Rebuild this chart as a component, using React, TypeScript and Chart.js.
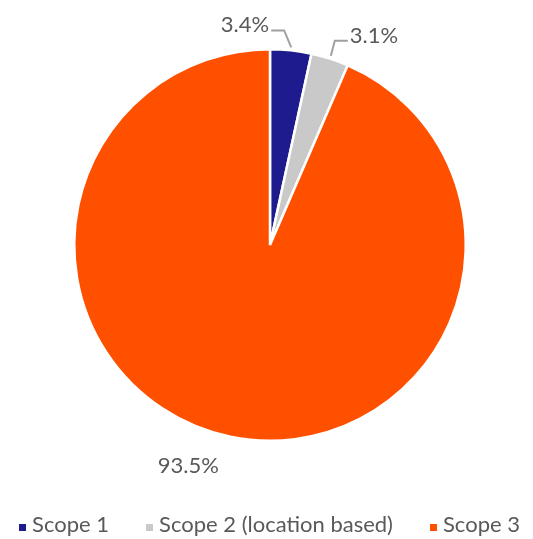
import React, { useEffect, useRef } from "react";
import { Chart, registerables } from "chart.js";

Chart.register(...registerables);

const categories = ["Scope 1", "Scope 2 (location based)", "Scope 3"];
const values = [3.4, 3.1, 93.5];
const valueLabels = ["3.4%", "3.1%", "93.5%"];
const colors = ["#1E1B8E", "#C9C9C9", "#FF5000"];

// label layout relative to slice edge anchor: [elbowDx, elbowDy, endDx, endDy] or null for no leader
const leaderLayout: (number[] | null)[] = [
  [-7, -17, -20, -17],
  [4, -15, 17, -15],
  null,
];
const freeLabelOffset = [-42, 29];

const FONT = "Lato, 'Open Sans', sans-serif";
const LABEL_SIZE = 22;
const LEGEND_SIZE = 22;
const TEXT_COLOR = "#595959";

const labelPlugin = {
  id: "pctLabels",
  afterDraw(chart: any) {
    const ctx = chart.ctx;
    const meta = chart.getDatasetMeta(0);
    ctx.save();
    ctx.font = `${LABEL_SIZE}px ${FONT}`;
    ctx.fillStyle = TEXT_COLOR;
    meta.data.forEach((arc: any, i: number) => {
      const p = arc.getProps(["x", "y", "startAngle", "endAngle", "outerRadius"], true);
      const mid = (p.startAngle + p.endAngle) / 2;
      const ax = p.x + (p.outerRadius + 3) * Math.cos(mid);
      const ay = p.y + (p.outerRadius + 3) * Math.sin(mid);
      const lay = leaderLayout[i];
      if (lay) {
        ctx.strokeStyle = "#A0A0A0";
        ctx.lineWidth = 2;
        ctx.beginPath();
        ctx.moveTo(ax, ay);
        ctx.lineTo(ax + lay[0], ay + lay[1]);
        ctx.lineTo(ax + lay[2], ay + lay[3]);
        ctx.stroke();
        const ex = ax + lay[2];
        const ey = ay + lay[3];
        ctx.textBaseline = "alphabetic";
        if (lay[2] < 0) {
          ctx.textAlign = "right";
          ctx.fillText(valueLabels[i], ex - 2, ey + 2);
        } else {
          ctx.textAlign = "left";
          ctx.fillText(valueLabels[i], ex + 2, ey + 2);
        }
      } else {
        const ex = p.x + p.outerRadius * Math.cos(mid) + freeLabelOffset[0];
        const ey = p.y + p.outerRadius * Math.sin(mid) + freeLabelOffset[1];
        ctx.textAlign = "center";
        ctx.textBaseline = "middle";
        ctx.fillText(valueLabels[i], ex, ey);
      }
    });

    // legend
    ctx.font = `${LEGEND_SIZE}px ${FONT}`;
    ctx.textAlign = "left";
    ctx.textBaseline = "alphabetic";
    const box = 7;
    const boxGap = 6;
    const itemGap = 37;
    const widths = categories.map((c) => ctx.measureText(c).width);
    const total =
      widths.reduce((a, w) => a + box + boxGap + w, 0) + itemGap * (categories.length - 1);
    let x = chart.width / 2 + 3 - total / 2;
    const baseY = 532;
    categories.forEach((c, i) => {
      ctx.fillStyle = colors[i];
      ctx.fillRect(x, baseY - 8, box, box);
      x += box + boxGap;
      ctx.fillStyle = TEXT_COLOR;
      ctx.fillText(c, x, baseY);
      x += widths[i] + itemGap;
    });
    ctx.restore();
  },
};

export default function App() {
  const ref = useRef<HTMLCanvasElement>(null);
  useEffect(() => {
    document.body.style.margin = "0";
    const chart = new Chart(ref.current!, {
      type: "pie",
      data: {
        labels: categories,
        datasets: [
          {
            data: values,
            backgroundColor: colors,
            borderColor: "#FFFFFF",
            borderWidth: 2.5,
          },
        ],
      },
      options: {
        responsive: false,
        animation: false,
        devicePixelRatio: 1,
        layout: { padding: { left: 73, right: 66, top: 48, bottom: 97 } },
        plugins: { legend: { display: false }, tooltip: { enabled: false } },
      },
      plugins: [labelPlugin],
    });
    return () => chart.destroy();
  }, []);
  return (
    <div style={{ width: 533, height: 539 }}>
      <canvas ref={ref} width={533} height={539} />
    </div>
  );
}
